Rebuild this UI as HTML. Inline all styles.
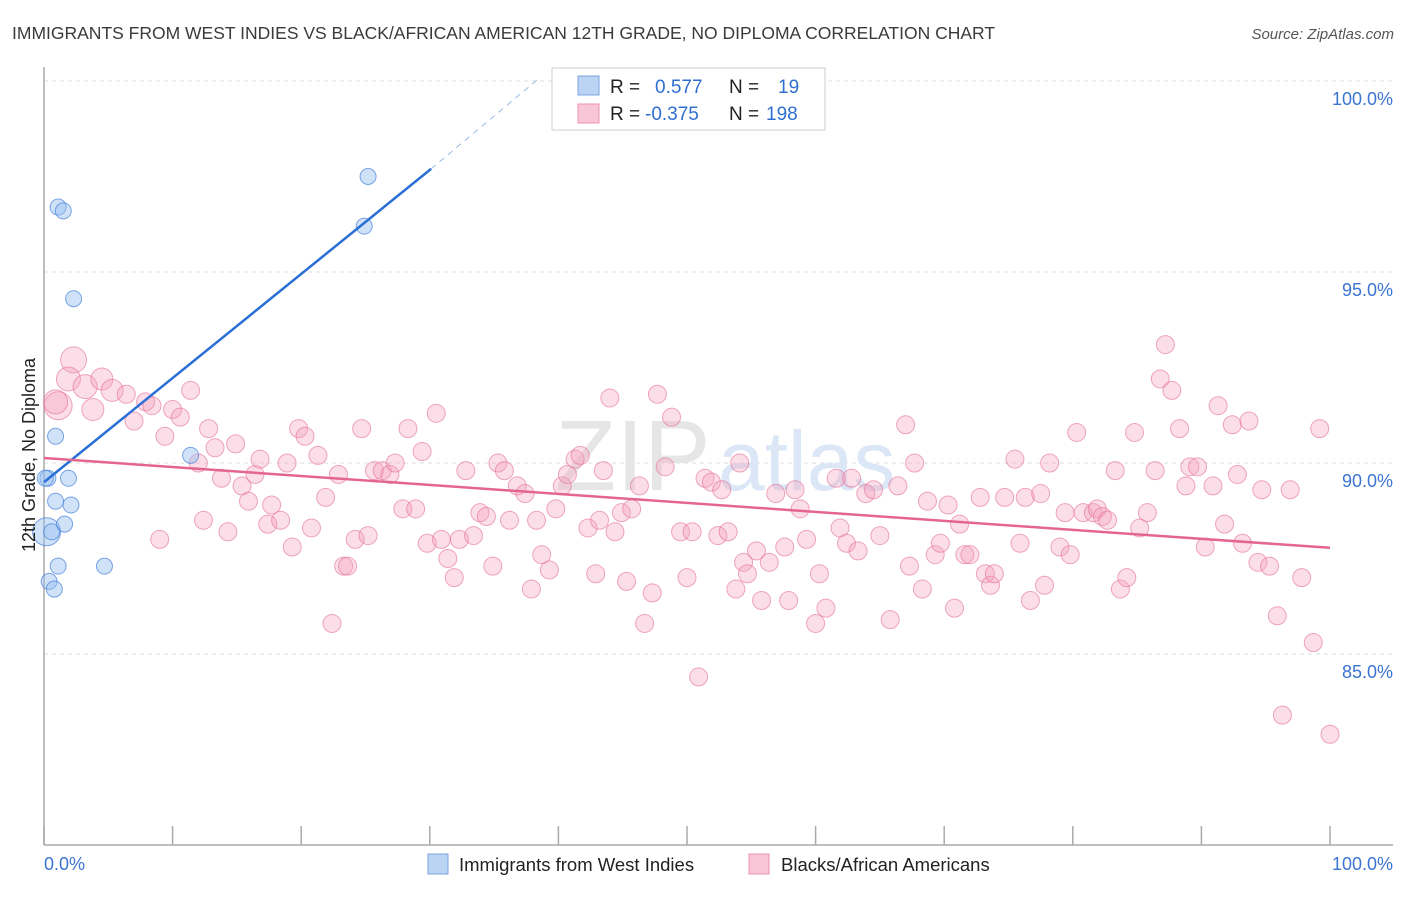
<!DOCTYPE html>
<html><head><meta charset="utf-8"><style>
body{margin:0;background:#fff;font-family:"Liberation Sans",sans-serif}
svg text{font-family:"Liberation Sans",sans-serif}
</style></head><body>
<svg id="chart" width="1406" height="892" xmlns="http://www.w3.org/2000/svg">
<text x="12" y="39" font-size="17.5" fill="#3a3a3a">IMMIGRANTS FROM WEST INDIES VS BLACK/AFRICAN AMERICAN 12TH GRADE, NO DIPLOMA CORRELATION CHART</text>
<text x="1394" y="39" font-size="15" fill="#555" font-style="italic" text-anchor="end">Source: ZipAtlas.com</text>
<g id="grid"></g>
<g><text x="555" y="490" font-size="100" fill="#e6e6e6" font-family="Liberation Serif">ZIP</text><text x="718" y="490" font-size="84" fill="#dbe7f6">atlas</text></g>
<g id="axes"></g>
<g id="pink"></g>
<g id="blue"></g>
<g id="lines"></g>
<text transform="translate(35,455) rotate(-90)" font-size="18" fill="#222" text-anchor="middle">12th Grade, No Diploma</text>
<g>
<rect x="552" y="68" width="273" height="62" fill="#fff" stroke="#ccc"/>
<rect x="578" y="76" width="21" height="19" fill="#bcd4f4" stroke="#7aa4e0"/>
<rect x="578" y="104" width="21" height="19" fill="#f8c6d6" stroke="#eb93b1"/>
<text x="610" y="93" font-size="19" fill="#222">R =</text><text x="655" y="93" font-size="19" fill="#2f6fd1">0.577</text>
<text x="729" y="93" font-size="19" fill="#222">N =</text><text x="778" y="93" font-size="19" fill="#2f6fd1">19</text>
<text x="610" y="120" font-size="19" fill="#222">R =</text><text x="645" y="120" font-size="19" fill="#2f6fd1">-0.375</text>
<text x="729" y="120" font-size="19" fill="#222">N =</text><text x="766" y="120" font-size="19" fill="#2f6fd1">198</text>
</g>
<g>
<rect x="428" y="854" width="20" height="20" fill="#bcd4f4" stroke="#7aa4e0"/>
<text x="459" y="871" font-size="18.5" fill="#222">Immigrants from West Indies</text>
<rect x="749" y="854" width="20" height="20" fill="#f8c6d6" stroke="#eb93b1"/>
<text x="781" y="871" font-size="18.5" fill="#222">Blacks/African Americans</text>
</g>
</svg>
<script>
const yTicks=[85,90,95,100];
const yTickLabels=["85.0%","90.0%","95.0%","100.0%"];
const xEndLabels=["0.0%","100.0%"];
const blueX=[0.3,0.2,0.6,0.9,1.9,2.1,1.6,0.9,1.1,1.5,2.3,11.4,25.2,24.9,4.7,1.1,0.4,0.8,0.1];
const blueY=[89.6,88.2,88.2,89.0,89.6,88.9,88.4,90.7,96.7,96.6,94.3,90.2,97.5,96.2,87.3,87.3,86.9,86.7,89.6];
const blueBig=[0,1,0,0,0,0,0,0,0,0,0,0,0,0,0,0,0,0,0];
const pinkX=[1.1,0.9,2.3,1.9,3.2,4.5,5.3,3.8,6.4,7.0,7.9,8.4,9.4,10.0,10.6,11.4,9.0,12.0,12.4,12.8,13.3,13.8,14.3,14.9,15.4,15.9,16.4,16.8,17.4,17.7,18.4,19.3,18.9,19.8,20.3,20.8,21.3,21.9,22.4,22.9,23.3,23.6,24.2,24.7,25.2,25.7,26.3,26.9,27.3,27.9,28.3,28.9,29.4,29.8,30.5,30.9,31.4,31.9,32.3,32.8,33.4,33.9,34.4,34.9,35.3,35.8,36.2,36.8,37.4,37.9,38.3,38.7,39.3,39.8,40.3,40.7,41.3,41.7,42.3,42.9,43.2,43.5,44.0,44.4,44.9,45.3,45.7,46.3,46.7,47.3,47.7,48.3,48.8,49.5,50.0,50.4,50.9,51.4,51.9,52.4,52.7,53.2,53.8,54.1,54.4,54.7,55.4,55.8,56.4,56.9,57.6,57.9,58.4,58.8,59.3,60.0,60.3,60.8,61.6,61.9,62.4,62.8,63.3,63.9,64.5,65.0,65.8,66.4,67.0,67.3,67.7,68.3,68.7,69.3,69.7,70.3,70.8,71.2,71.6,72.0,72.8,73.2,73.6,73.9,74.7,75.5,75.9,76.3,76.7,77.5,77.8,78.2,79.0,79.4,79.8,80.3,80.8,81.6,81.9,82.3,82.7,83.3,83.7,84.2,84.8,85.2,85.8,86.4,86.8,87.2,87.7,88.3,88.8,89.1,89.7,90.3,90.9,91.3,91.8,92.4,92.8,93.2,93.7,94.4,94.7,95.3,95.9,96.3,96.9,97.8,98.7,99.2,100.0];
const pinkY=[91.5,91.6,92.7,92.2,92.0,92.2,91.9,91.4,91.8,91.1,91.6,91.5,90.7,91.4,91.2,91.9,88.0,90.0,88.5,90.9,90.4,89.6,88.2,90.5,89.4,89.0,89.7,90.1,88.4,88.9,88.5,87.8,90.0,90.9,90.7,88.3,90.2,89.1,85.8,89.7,87.3,87.3,88.0,90.9,88.1,89.8,89.8,89.7,90.0,88.8,90.9,88.8,90.3,87.9,91.3,88.0,87.5,87.0,88.0,89.8,88.1,88.7,88.6,87.3,90.0,89.8,88.5,89.4,89.2,86.7,88.5,87.6,87.2,88.8,89.4,89.7,90.1,90.2,88.3,87.1,88.5,89.8,91.7,88.2,88.7,86.9,88.8,89.4,85.8,86.6,91.8,89.9,91.2,88.2,87.0,88.2,84.4,89.6,89.5,88.1,89.3,88.2,86.7,90.0,87.4,87.1,87.7,86.4,87.4,89.2,87.8,86.4,89.3,88.8,88.0,85.8,87.1,86.2,89.6,88.3,87.9,89.6,87.7,89.2,89.3,88.1,85.9,89.4,91.0,87.3,90.0,86.7,89.0,87.6,87.9,88.9,86.2,88.4,87.6,87.6,89.1,87.1,86.8,87.1,89.1,90.1,87.9,89.1,86.4,89.2,86.8,90.0,87.8,88.7,87.6,90.8,88.7,88.7,88.8,88.6,88.5,89.8,86.7,87.0,90.8,88.3,88.7,89.8,92.2,93.1,91.9,90.9,89.4,89.9,89.9,87.8,89.4,91.5,88.4,91.0,89.7,87.9,91.1,87.4,89.3,87.3,86.0,83.4,89.3,87.0,85.3,90.9,82.9];
const pinkBig=[14,12,13,12,12,11,11,11];
const blueTrend=[[0,89.5],[30.1,97.7]];
const blueTrendDash=[[30.1,97.7],[38.6,100.1]];
const pinkTrend=[[0,90.13],[100,87.78]];
const NS="http://www.w3.org/2000/svg";
function sx(v){return 44+v*12.86;}
function sy(v){return 463-(v-90)*38.2;}
function mk(tag,attrs,parent){const e=document.createElementNS(NS,tag);for(const k in attrs)e.setAttribute(k,attrs[k]);parent.appendChild(e);return e;}
const grid=document.getElementById('grid'),axes=document.getElementById('axes');
yTicks.forEach((t,i)=>{
 const l=mk('line',{x1:44,x2:1393,y1:sy(t),y2:sy(t),stroke:'#ddd','stroke-dasharray':'4,4'},grid);
 
 
 const tx=mk('text',{x:1393,y:sy(t)+24,'font-size':18,fill:'#3b74d1','text-anchor':'end'},axes);
 tx.textContent=yTickLabels[i];
 
 
});
const ya=mk('line',{x1:44,x2:44,y1:67,y2:845,stroke:'#aaa','stroke-width':1.5},axes);


const xa=mk('line',{x1:44,x2:1393,y1:845,y2:845,stroke:'#aaa','stroke-width':1.5},axes);


for(let i=0;i<=10;i++){
 const tk=mk('line',{x1:sx(i*10),x2:sx(i*10),y1:826,y2:845,stroke:'#aaa','stroke-width':1.5},axes);
 
 
}
[[0,'start',44],[1,'end',1393]].forEach(([i,a,x])=>{
 const tx=mk('text',{x:x,y:870,'font-size':18,fill:'#3b74d1','text-anchor':a},axes);
 tx.textContent=xEndLabels[i];
 
 
});
const pink=document.getElementById('pink');
pinkX.forEach((x,i)=>{
 const c=mk('circle',{cx:sx(x),cy:sy(pinkY[i]),r:pinkBig[i]||9,fill:'rgba(244,160,188,0.35)',stroke:'rgba(228,110,150,0.6)','stroke-width':1},pink);
 
 
});
const blue=document.getElementById('blue');
blueX.forEach((x,i)=>{
 const c=mk('circle',{cx:sx(x),cy:sy(blueY[i]),r:blueBig[i]?14:8,fill:'rgba(150,190,240,0.45)',stroke:'rgba(70,130,220,0.7)','stroke-width':1},blue);
 
 
});
const lines=document.getElementById('lines');
const bl=mk('line',{x1:sx(blueTrend[0][0]),y1:sy(blueTrend[0][1]),x2:sx(blueTrend[1][0]),y2:sy(blueTrend[1][1]),stroke:'#2a6fd6','stroke-width':2.5},lines);


const bd=mk('line',{x1:sx(blueTrendDash[0][0]),y1:sy(blueTrendDash[0][1]),x2:sx(blueTrendDash[1][0]),y2:sy(blueTrendDash[1][1]),stroke:'#9bbbe6','stroke-width':1,'stroke-dasharray':'6,5'},lines);


const pl=mk('line',{x1:sx(pinkTrend[0][0]),y1:sy(pinkTrend[0][1]),x2:sx(pinkTrend[1][0]),y2:sy(pinkTrend[1][1]),stroke:'#e4668f','stroke-width':2.5},lines);


</script>
</body></html>
